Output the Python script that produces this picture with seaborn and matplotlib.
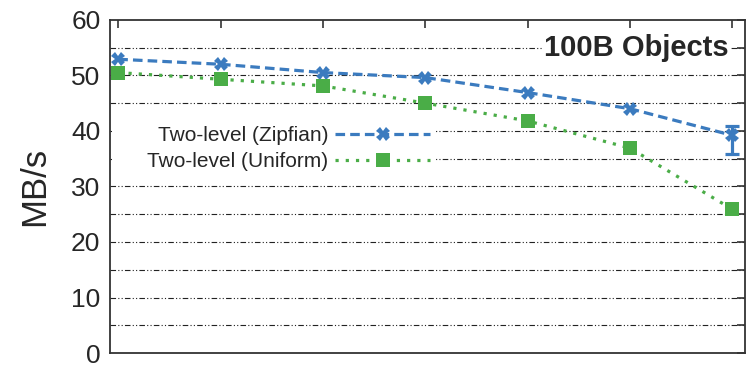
import matplotlib
matplotlib.use("Agg")
import matplotlib.pyplot as plt
from matplotlib.patches import Rectangle
import seaborn as sns
import pandas as pd
import numpy as np

# Throughput (MB/s) for 100B objects at seven load levels
steps = [0, 1, 2, 3, 4, 5, 6]
zipfian = [52.9, 52.0, 50.5, 49.6, 46.9, 44.0, 39.2]
uniform = [50.5, 49.3, 48.1, 45.0, 41.8, 36.9, 25.9]
# spread of the last Zipfian measurement
zipf_err_low = [None, None, None, None, None, None, 35.8]
zipf_err_high = [None, None, None, None, None, None, 40.9]

series_names = ["Two-level (Zipfian)", "Two-level (Uniform)"]
y_ticks = [0, 10, 20, 30, 40, 50, 60]

df = pd.DataFrame({
    "step": steps * 2,
    "MB/s": zipfian + uniform,
    "series": [series_names[0]] * len(steps) + [series_names[1]] * len(steps),
})

sns.set_style("white")
plt.rcParams["font.family"] = ["Liberation Sans", "DejaVu Sans"]

fig = plt.figure(figsize=(7.49, 3.67), dpi=100)
ax = fig.add_axes([0.147, 0.038, 0.847, 0.908])

blue = "#3b7bbf"
green = "#4aad47"

# horizontal grid every 5 MB/s
for yv in np.arange(5, 60, 5):
    ax.axhline(yv, color="#222222", lw=0.8, ls=(0, (5, 2, 1, 2, 1, 2)), zorder=0)

# blank key area over the grid
ax.add_patch(Rectangle((0.003, 0.55), 0.51, 0.165, transform=ax.transAxes,
                       fc="white", ec="none", zorder=0.5))

sns.lineplot(data=df, x="step", y="MB/s", hue="series", style="series",
             palette=[blue, green], dashes=[(3, 1.6), (1, 2.2)],
             markers=["X", "s"], markersize=10, markeredgewidth=0,
             linewidth=2.3, ax=ax, legend=True)

# error bar on the final Zipfian point
i = len(steps) - 1
ax.errorbar([steps[i]], [zipfian[i]],
            yerr=[[zipfian[i] - zipf_err_low[i]], [zipf_err_high[i] - zipfian[i]]],
            fmt="none", ecolor=blue, elinewidth=2.3, capsize=5, capthick=2.3,
            ls=(0, (3, 1.6)))

ax.set_xlim(-0.08, 6.12)
ax.set_ylim(0, 60)
ax.set_xticks(steps)
ax.set_xticklabels([])
ax.set_yticks(np.arange(0, 61, 5))
ax.set_yticklabels([str(v) if v in y_ticks else "" for v in np.arange(0, 61, 5)])
ax.tick_params(axis="both", direction="in", length=6, width=1.2, color="#333333",
               top=True, right=True, labelsize=19, pad=6)
ax.tick_params(axis="y", pad=7)
ax.set_xlabel("")
ax.set_ylabel("MB/s", fontsize=25, labelpad=14)

for s in ax.spines.values():
    s.set_color("#333333")
    s.set_linewidth(1.3)

ax.text(0.975, 0.915, "100B Objects", transform=ax.transAxes, ha="right",
        va="center", fontsize=21, fontweight="bold", zorder=3,
        bbox=dict(fc="white", ec="none", pad=1))

leg = ax.legend(loc="upper right", bbox_to_anchor=(0.505, 0.68), frameon=False,
                markerfirst=False, fontsize=15, handlelength=4.6,
                handletextpad=0.3, labelspacing=0.33, borderaxespad=0,
                borderpad=0)
for t in leg.get_texts():
    t.set_ha("right")
leg._legend_box.align = "right"
for vp in leg._legend_box._children[-1]._children:
    for c in vp._children:
        c.align = "baseline"

fig.savefig("out.png", dpi=100)
